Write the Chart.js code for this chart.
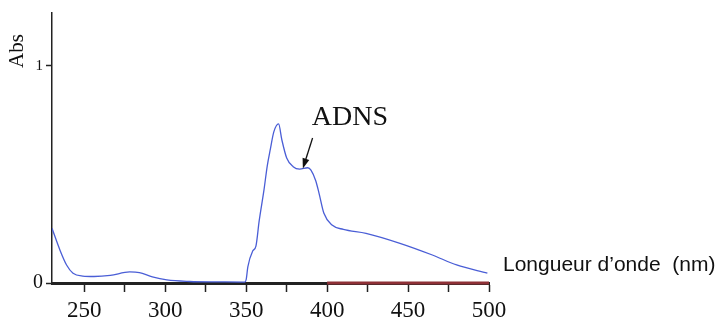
<!DOCTYPE html>
<html>
<head>
<meta charset="utf-8">
<script src="https://cdn.jsdelivr.net/npm/chart.js@4.4.1/dist/chart.umd.min.js"></script>
<style>
  html, body { margin: 0; padding: 0; background: #fff; }
  #wrap { width: 720px; height: 322px; }
</style>
</head>
<body>
<div id="wrap"><canvas id="myChart" width="720" height="322"></canvas></div>
<script>
const wavelengths = [230, 235, 239, 243, 249, 256, 266, 278, 284, 292, 301, 315, 334, 349,
    350, 351, 354, 356, 358, 361, 363, 365, 367, 370, 372, 375, 379, 383, 388, 390,
    393, 395, 398, 403, 410, 424, 445, 465, 480, 499];
const absorbance = [0.252, 0.150, 0.083, 0.045, 0.032, 0.030, 0.035, 0.051, 0.048, 0.028, 0.014, 0.007, 0.005, 0.004,
    0.017, 0.074, 0.147, 0.170, 0.286, 0.430, 0.540, 0.620, 0.695, 0.733, 0.660, 0.576, 0.536, 0.525, 0.531, 0.520,
    0.470, 0.413, 0.321, 0.267, 0.247, 0.229, 0.183, 0.129, 0.083, 0.045];
const xTicks = [250, 275, 300, 325, 350, 375, 400, 425, 450, 475, 500];
const yTicks = [0, 1];
const redSegment = [400, 500];
const peakLabel = 'ADNS';
const xTitle = 'Longueur d\u2019onde  (nm)';
const yTitle = 'Abs';

const annotations = {
    id: 'annotations',
    afterDatasetsDraw(chart) {
        const ctx = chart.ctx;
        const x = chart.scales.x, y = chart.scales.y;
        ctx.save();
        ctx.fillStyle = '#111';
        // ADNS
        ctx.font = '28px "Liberation Serif", serif';
        ctx.textBaseline = 'alphabetic';
        ctx.textAlign = 'left';
        ctx.fillText(peakLabel, x.getPixelForValue(390.5), y.getPixelForValue(0.728));
        // fleche
        const x1 = x.getPixelForValue(391), y1 = y.getPixelForValue(0.668);
        const x2 = x.getPixelForValue(385), y2 = y.getPixelForValue(0.528);
        const ang = Math.atan2(y2 - y1, x2 - x1);
        ctx.strokeStyle = '#111';
        ctx.lineWidth = 1.3;
        ctx.beginPath();
        ctx.moveTo(x1, y1);
        ctx.lineTo(x2 - 6 * Math.cos(ang), y2 - 6 * Math.sin(ang));
        ctx.stroke();
        ctx.beginPath();
        ctx.moveTo(x2, y2);
        ctx.lineTo(x2 - 10 * Math.cos(ang) + 3.5 * Math.sin(ang), y2 - 10 * Math.sin(ang) - 3.5 * Math.cos(ang));
        ctx.lineTo(x2 - 10 * Math.cos(ang) - 3.5 * Math.sin(ang), y2 - 10 * Math.sin(ang) + 3.5 * Math.cos(ang));
        ctx.closePath();
        ctx.fill();
        // titres des axes
        ctx.font = '21px "Liberation Sans", sans-serif';
        ctx.textBaseline = 'middle';
        ctx.fillText(xTitle, chart.chartArea.right + 14, y.getPixelForValue(0.083));
        ctx.translate(17, 51);
        ctx.rotate(-Math.PI / 2);
        ctx.textAlign = 'center';
        ctx.font = '21px "Liberation Serif", serif';
        ctx.fillText(yTitle, 0, 0);
        ctx.restore();
    }
};

function createChart() {
    const ctx = document.getElementById('myChart').getContext('2d');
    new Chart(ctx, {
        type: 'line',
        data: {
            datasets: [{
                data: wavelengths.map((w, i) => ({ x: w, y: absorbance[i] })),
                borderColor: '#4a5ed6',
                borderWidth: 1.3,
                pointRadius: 0,
                cubicInterpolationMode: 'monotone',
                fill: false
            }, {
                data: redSegment.map(w => ({ x: w, y: 0 })),
                borderColor: '#8e3036',
                borderWidth: 3,
                pointRadius: 0,
                clip: false
            }]
        },
        options: {
            responsive: false,
            animation: false,
            layout: { padding: { left: 0, right: 231, top: 13, bottom: 0 } },
            plugins: { legend: { display: false }, tooltip: { enabled: false } },
            scales: {
                x: {
                    type: 'linear',
                    min: 230,
                    max: 500,
                    afterBuildTicks: s => { s.ticks = xTicks.map(v => ({ value: v })); },
                    afterFit: s => { s.height = 39; },
                    border: { color: '#222', width: 3 },
                    grid: { drawOnChartArea: false, tickLength: 9, tickWidth: 1.5, color: '#222' },
                    ticks: {
                        autoSkip: false,
                        maxRotation: 0,
                        padding: 5,
                        color: '#111',
                        font: { family: '"Liberation Serif", serif', size: 23 },
                        callback: v => (v % 50 === 0 ? v : '')
                    }
                },
                y: {
                    min: 0,
                    max: 1.244,
                    afterBuildTicks: s => { s.ticks = yTicks.map(v => ({ value: v })); },
                    afterFit: s => { s.width = 52; },
                    border: { color: '#222', width: 1.5 },
                    grid: { drawOnChartArea: false, tickLength: 6, tickWidth: 1.5, color: '#222' },
                    ticks: {
                        padding: 3,
                        color: '#111',
                        font: c => ({ family: '"Liberation Serif", serif', size: c.tick && c.tick.value === 1 ? 15 : 20 })
                    }
                }
            }
        },
        plugins: [annotations]
    });
}

document.addEventListener('DOMContentLoaded', createChart);
</script>
</body>
</html>
